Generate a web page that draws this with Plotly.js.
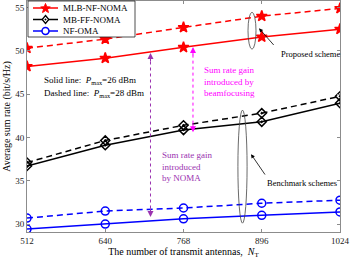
<!DOCTYPE html>
<html>
<head>
<meta charset="utf-8">
<script src="https://cdn.plot.ly/plotly-3.0.1.min.js"></script>
<style>html,body{margin:0;padding:0;background:#fff;}#chart{width:350px;height:263px;}</style>
</head>
<body>
<div id="chart"></div>
<script>
const antennas = [512, 640, 768, 896, 1024];
const mlbSolid = [48.2, 49.15, 50.4, 51.6, 52.5];
const mlbDashed = [50.3, 51.35, 52.7, 54.0, 54.9];
const mbffSolid = [36.7, 39.1, 40.85, 41.8, 43.95];
const mbffDashed = [37.1, 39.65, 41.4, 42.8, 44.75];
const omaSolid = [29.42, 30.0, 30.6, 31.0, 31.4];
const omaDashed = [30.69, 31.5, 31.85, 32.4, 32.75];
const seriesNames = ['MLB-NF-NOMA', 'MB-FF-NOMA', 'NF-OMA'];
const seriesColors = ['#ff0000', '#000000', '#0000ff'];
const xTicks = [512, 640, 768, 896, 1024];
const yTicks = [30, 35, 40, 45, 50, 55];

const FONT = 'Liberation Serif, Times New Roman, serif';
const dashPat = '6px,4px';

// plot area geometry (pixels) for the hand-drawn legend box
const W = 350, H = 263, ML = 27, MR = 10, MT = 1, MB = 31;
const PW = W - ML - MR, PH = H - MT - MB;
const px2x = p => (p - ML) / PW;
const px2y = p => (H - MB - p) / PH;

function tr(y, name, color, sym, size, dash) {
  return {
    x: antennas, y: y, type: 'scatter', mode: 'lines+markers', name: name,
    showlegend: false,
    line: {color: color, width: 1.5, dash: dash},
    marker: {symbol: sym, size: size, color: color, line: {color: color, width: 1.5}}
  };
}

const data = [
  tr(mlbSolid, seriesNames[0], seriesColors[0], 'star', 8, 'solid'),
  tr(mbffSolid, seriesNames[1], seriesColors[1], 'diamond-open-dot', 7, 'solid'),
  tr(omaSolid, seriesNames[2], seriesColors[2], 'circle-open', 8, 'solid'),
  tr(mlbDashed, seriesNames[0], seriesColors[0], 'star', 8, dashPat),
  tr(mbffDashed, seriesNames[1], seriesColors[1], 'diamond-open-dot', 7, dashPat),
  tr(omaDashed, seriesNames[2], seriesColors[2], 'circle-open', 8, dashPat)
];

const txtFont = {family: FONT, size: 9, color: '#000'};
const magenta = '#ff00ff';
const purple = '#9a32b0';

const annotations = [
  {x: 536, y: 46.6, xref: 'x', yref: 'y', text: 'Solid line:  <i>P</i><sub>max</sub>=26 dBm', showarrow: false, xanchor: 'left', yanchor: 'middle', font: txtFont},
  {x: 536, y: 45.1, xref: 'x', yref: 'y', text: 'Dashed line:  <i>P</i><sub>max</sub>=28 dBm', showarrow: false, xanchor: 'left', yanchor: 'middle', font: txtFont},
  {x: 976, y: 49.6, xref: 'x', yref: 'y', text: 'Proposed scheme', showarrow: false, xanchor: 'center', yanchor: 'middle', font: {family: FONT, size: 8.5, color: '#000'}},
  {x: 962, y: 34.7, xref: 'x', yref: 'y', text: 'Benchmark schemes', showarrow: false, xanchor: 'center', yanchor: 'middle', font: {family: FONT, size: 8.5, color: '#000'}},
  {x: 891.5, y: 52.6, ax: 917.7, ay: 50.5, xref: 'x', yref: 'y', axref: 'x', ayref: 'y', text: '', showarrow: true, arrowhead: 2, arrowsize: 1, arrowwidth: 0.8, arrowcolor: '#000'},
  {x: 878.4, y: 38.07, ax: 903, ay: 35.54, xref: 'x', yref: 'y', axref: 'x', ayref: 'y', text: '', showarrow: true, arrowhead: 2, arrowsize: 1, arrowwidth: 0.8, arrowcolor: '#000'},
  {x: 798, y: 46.4, xref: 'x', yref: 'y', text: 'Sum rate gain<br>introduced by<br>beamfocusing', showarrow: false, xanchor: 'left', yanchor: 'middle', align: 'left', font: {family: FONT, size: 9, color: magenta}},
  {x: 729.5, y: 36.7, xref: 'x', yref: 'y', text: 'Sum rate gain<br>introduced<br>by NOMA', showarrow: false, xanchor: 'left', yanchor: 'middle', align: 'left', font: {family: FONT, size: 9, color: purple}},
  {x: 783.5, y: 50.45, ax: 783.5, ay: 49.3, xref: 'x', yref: 'y', axref: 'x', ayref: 'y', text: '', showarrow: true, arrowhead: 2, arrowsize: 1.2, arrowwidth: 1, arrowcolor: magenta},
  {x: 783.5, y: 40.6, ax: 783.5, ay: 41.75, xref: 'x', yref: 'y', axref: 'x', ayref: 'y', text: '', showarrow: true, arrowhead: 2, arrowsize: 1.2, arrowwidth: 1, arrowcolor: magenta},
  {x: 714, y: 49.75, ax: 714, ay: 48.6, xref: 'x', yref: 'y', axref: 'x', ayref: 'y', text: '', showarrow: true, arrowhead: 2, arrowsize: 1.2, arrowwidth: 1, arrowcolor: purple},
  {x: 714, y: 30.8, ax: 714, ay: 31.95, xref: 'x', yref: 'y', axref: 'x', ayref: 'y', text: '', showarrow: true, arrowhead: 2, arrowsize: 1.2, arrowwidth: 1, arrowcolor: purple}
];

const shapes = [
  {type: 'circle', xref: 'x', yref: 'y', x0: 873.5, x1: 886.6, y0: 50.18, y1: 54.45, line: {color: '#444', width: 0.8}},
  {type: 'circle', xref: 'x', yref: 'y', x0: 857, x1: 872, y0: 30.1, y1: 43.15, line: {color: '#444', width: 0.8}},
  {type: 'line', xref: 'x', yref: 'y', x0: 783.5, x1: 783.5, y0: 40.9, y1: 50.1, line: {color: magenta, width: 1, dash: 'dot'}},
  {type: 'line', xref: 'x', yref: 'y', x0: 714, x1: 714, y0: 31.1, y1: 49.4, line: {color: purple, width: 1, dash: 'dot'}}
];

// ---- legend box (drawn as layout shapes/annotations so the row spacing matches) ----
function pathFromPx(pts, close) {
  return pts.map((p, i) => (i ? 'L' : 'M') + px2x(p[0]).toFixed(5) + ',' + px2y(p[1]).toFixed(5)).join(' ') + (close ? ' Z' : '');
}
function starPts(cx, cy, R) {
  const pts = [];
  for (let i = 0; i < 10; i++) {
    const r = i % 2 ? R * 0.42 : R;
    const a = -Math.PI / 2 + i * Math.PI / 5;
    pts.push([cx + r * Math.cos(a), cy + r * Math.sin(a)]);
  }
  return pts;
}
const legX0 = 28, legX1 = 135, legY0 = 1, legY1 = 37;
const rowY = [8, 19.5, 31];
shapes.push({type: 'rect', xref: 'paper', yref: 'paper', x0: px2x(legX0), x1: px2x(legX1), y0: px2y(legY1), y1: px2y(legY0),
             fillcolor: '#fff', line: {color: '#222', width: 0.8}, layer: 'above'});
rowY.forEach((ry, i) => {
  const c = seriesColors[i];
  shapes.push({type: 'line', xref: 'paper', yref: 'paper', x0: px2x(33), x1: px2x(58), y0: px2y(ry), y1: px2y(ry),
               line: {color: c, width: 1.5}, layer: 'above'});
  if (i === 0) {
    shapes.push({type: 'path', xref: 'paper', yref: 'paper', path: pathFromPx(starPts(45.5, ry + 0.5, 5), true),
                 fillcolor: c, line: {color: c, width: 1}, layer: 'above'});
  } else if (i === 1) {
    shapes.push({type: 'path', xref: 'paper', yref: 'paper', path: pathFromPx([[45.5, ry - 4], [48.8, ry], [45.5, ry + 4], [42.2, ry]], true),
                 fillcolor: '#fff', line: {color: c, width: 1.3}, layer: 'above'});
    shapes.push({type: 'circle', xref: 'paper', yref: 'paper', x0: px2x(44.8), x1: px2x(46.2), y0: px2y(ry + 0.7), y1: px2y(ry - 0.7),
                 fillcolor: c, line: {color: c, width: 0.5}, layer: 'above'});
  } else {
    shapes.push({type: 'circle', xref: 'paper', yref: 'paper', x0: px2x(42), x1: px2x(49), y0: px2y(ry + 3.5), y1: px2y(ry - 3.5),
                 fillcolor: '#fff', line: {color: c, width: 1.5}, layer: 'above'});
  }
  annotations.push({x: px2x(61), y: px2y(ry), xref: 'paper', yref: 'paper', text: seriesNames[i], showarrow: false,
                    xanchor: 'left', yanchor: 'middle', font: {family: FONT, size: 9, color: '#000'}});
});

const axisCommon = {
  showgrid: false, zeroline: false, showline: true, linecolor: '#8c8c8c', linewidth: 1,
  mirror: 'ticks', ticks: 'inside', ticklen: 3, tickcolor: '#8c8c8c',
  tickfont: {family: FONT, size: 9, color: '#222'}
};

const layout = {
  width: W, height: H,
  margin: {l: ML, r: MR, t: MT, b: MB},
  paper_bgcolor: '#fff', plot_bgcolor: '#fff',
  font: {family: FONT, size: 9, color: '#000'},
  showlegend: false,
  xaxis: Object.assign({}, axisCommon, {
    range: [512, 1024], tickvals: xTicks, ticktext: xTicks.map(String),
    title: {text: 'The number of transmit antennas,  <i>N</i><sub>T</sub>', font: {family: FONT, size: 10, color: '#000'}, standoff: 2}
  }),
  yaxis: Object.assign({}, axisCommon, {
    range: [29.08, 55.75], tickvals: yTicks, ticktext: yTicks.map(String),
    title: {text: 'Average sum rate (bit/s/Hz)', font: {family: FONT, size: 10, color: '#000'}, standoff: 2}
  }),
  annotations: annotations,
  shapes: shapes
};

Plotly.newPlot('chart', data, layout, {staticPlot: true, displayModeBar: false});
</script>
</body>
</html>
